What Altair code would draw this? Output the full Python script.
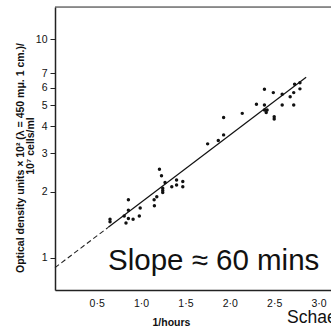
import altair as alt
import pandas as pd

# scatter points (x = 1/hours, y = optical density ratio)
px = [0.65, 0.65, 0.81, 0.83, 0.857, 0.857, 0.857, 0.91, 0.99, 0.98,
      1.147, 1.15, 1.177, 1.207, 1.23, 1.244, 1.244, 1.244, 1.27, 1.346,
      1.40, 1.40, 1.47, 1.47, 1.75, 1.87, 1.93, 1.93, 2.14, 2.30,
      2.39, 2.39, 2.39, 2.41, 2.42, 2.49, 2.50, 2.50, 2.59, 2.59,
      2.68, 2.72, 2.73, 2.72, 2.79, 2.79]
py = [1.50, 1.46, 1.55, 1.44, 1.84, 1.65, 1.51, 1.50, 1.69, 1.55,
      1.84, 1.73, 1.90, 2.54, 2.37, 2.08, 2.03, 1.99, 2.21, 2.11,
      2.27, 2.15, 2.23, 2.11, 3.32, 3.44, 4.38, 3.65, 4.58, 5.04,
      5.90, 5.00, 4.75, 4.62, 4.75, 5.70, 4.42, 4.32, 5.60, 5.00,
      5.46, 5.70, 6.22, 5.00, 6.33, 5.93]

# fitted line: dashed extrapolation then solid part
dash_x = [0.03, 0.63]
dash_y = [0.90, 1.377]
solid_x = [0.63, 2.86]
solid_y = [1.377, 6.70]

x_ticks = [0.5, 1.0, 1.5, 2.0, 2.5, 3.0]
y_ticks = [1, 2, 3, 4, 5, 6, 7, 10]

y_title_1 = "Optical density units \u00d7 10\u00b2 (\u03bb = 450 m\u03bc. 1 cm.)/"
y_title_2 = "10\u2077 cells/ml"
x_title = "1/hours"
note = "Slope \u2248 60 mins"
credit = "Schaechter et al."

pts = pd.DataFrame({"x": px, "y": py})
dash = pd.DataFrame({"x": dash_x, "y": dash_y})
solid = pd.DataFrame({"x": solid_x, "y": solid_y})
one = pd.DataFrame({"a": [0]})

W, H = 276, 283
FONT = "Liberation Sans"

xscale = alt.Scale(domain=[0.03, 3.14], nice=False, zero=False)
yscale = alt.Scale(type="log", domain=[0.711, 14.06], nice=False)

xaxis = alt.Axis(values=x_ticks, format=".1f", labelExpr="replace(datum.label, '.', '\u00b7')",
                 ticks=False, labelPadding=8, grid=False, domainColor="#222", domainWidth=1.5,
                 labelFontSize=10.5, labelColor="#111", labelFont=FONT,
                 title=x_title, titleFont=FONT, titleFontSize=10.5, titleFontWeight="bold",
                 titleColor="#111", titleX=116, titleY=32, titleBaseline="middle", titleAlign="center")
yaxis = alt.Axis(values=y_ticks, format=".0f", tickSize=5, tickColor="#222", labelPadding=3,
                 grid=False, domainColor="#222", domainWidth=1.5,
                 labelFontSize=10.5, labelColor="#111", labelFont=FONT, title=None)

points = alt.Chart(pts).mark_circle(size=12, color="#111", opacity=1).encode(
    x=alt.X("x:Q", scale=xscale, axis=xaxis),
    y=alt.Y("y:Q", scale=yscale, axis=yaxis),
)
dline = alt.Chart(dash).mark_line(color="#222", strokeWidth=1.1, strokeDash=[5, 3]).encode(
    x=alt.X("x:Q", scale=xscale), y=alt.Y("y:Q", scale=yscale))
sline = alt.Chart(solid).mark_line(color="#111", strokeWidth=1.2).encode(
    x=alt.X("x:Q", scale=xscale), y=alt.Y("y:Q", scale=yscale))

top = alt.Chart(one).mark_rule(color="#333", strokeWidth=1.2).encode(
    x=alt.value(0), x2=alt.value(W + 10), y=alt.value(0))

t1 = alt.Chart(one).mark_text(angle=270, font=FONT, fontSize=10.5, fontWeight="bold",
                              color="#111", align="center", baseline="middle").encode(
    x=alt.value(21 - 55), y=alt.value(151), text=alt.value(y_title_1))
t2 = alt.Chart(one).mark_text(angle=270, font=FONT, fontSize=10.5, fontWeight="bold",
                              color="#111", align="center", baseline="middle").encode(
    x=alt.value(31 - 55), y=alt.value(139), text=alt.value(y_title_2))

slope = alt.Chart(one).mark_text(font=FONT, fontSize=29.5, color="#111", align="left",
                                 baseline="alphabetic").encode(
    x=alt.value(108 - 55), y=alt.value(270 - 7), text=alt.value(note))
cred = alt.Chart(one).mark_text(font=FONT, fontSize=17.5, color="#111", align="left",
                                baseline="alphabetic").encode(
    x=alt.value(287 - 55), y=alt.value(323 - 7), text=alt.value(credit))

chart = alt.layer(dline, sline, points, top, t1, t2, slope, cred).properties(
    width=W, height=H,
    autosize=alt.AutoSizeParams(type="none"),
    padding={"left": 55, "top": 7, "right": 0, "bottom": 41},
).configure_view(stroke=None).configure(background="white")

chart.save("out.html", embed_options={"renderer": "svg", "actions": False})
